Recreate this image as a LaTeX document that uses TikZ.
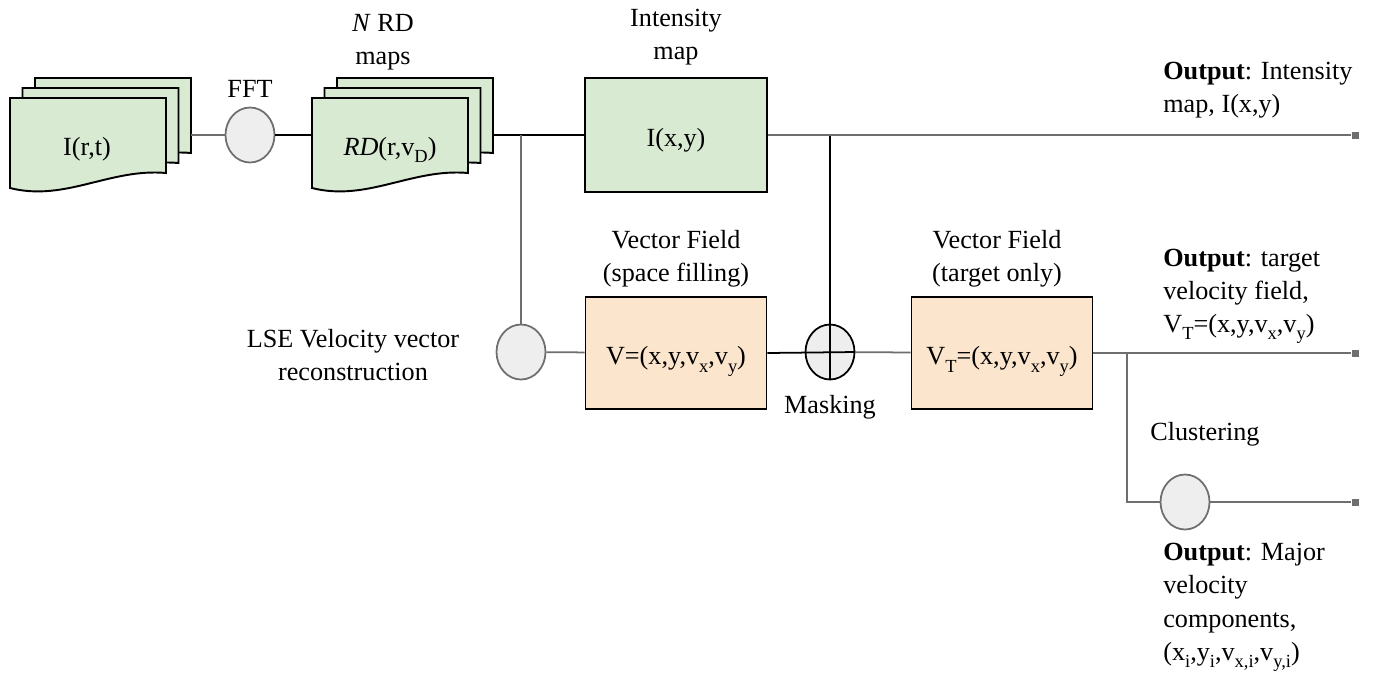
\documentclass[tikz,border=0pt]{standalone}
\usepackage{fontspec}
\setmainfont{Liberation Serif}
\usepackage{tikz}
\usetikzlibrary{shapes.geometric}
\definecolor{mapgreen}{HTML}{D9EAD3}
\definecolor{vecorange}{HTML}{FCE5CD}
\definecolor{opgray}{HTML}{EEEEEE}
\definecolor{wiregray}{HTML}{6E6E6E}
\newcommand{\lowsub}[1]{\raisebox{-4.2pt}{\fontsize{10.5}{10.5}\selectfont #1}}

\begin{document}
\begin{tikzpicture}[font=\fontsize{14.9}{18.8}\selectfont,
  sheet/.style={draw,line width=1.1pt,fill=mapgreen},
  mapbox/.style={draw,line width=1.1pt,fill=mapgreen,minimum width=3.64cm,minimum height=2.28cm,text height=13.5pt,text depth=0pt},
  vecbox/.style={draw,line width=1.1pt,fill=vecorange,minimum width=3.62cm,minimum height=2.24cm,text height=13.5pt,text depth=0pt},
  opnode/.style={ellipse,draw=wiregray,line width=1pt,fill=opgray,minimum width=0.98cm,minimum height=1.1cm,inner sep=0pt},
  wire/.style={wiregray,line width=1pt},
  bwire/.style={black,line width=1pt},
  endpt/.style={fill=wiregray,inner sep=0pt,minimum size=0.14cm},
  lbl/.style={align=center,inner sep=0pt},
  outlbl/.style={align=left,anchor=west,inner sep=0pt}]
\useasboundingbox (0,0) rectangle (27.52,-13.5);
\foreach \x in {0.2,6.24}
  \foreach \k in {2,1,0}
    \draw[sheet,shift={(\x+0.25*\k,-1.96+0.2*\k)}] (0,0)--(3.12,0)--(3.12,-1.5)
      .. controls (2.0,-1.4) and (1.1,-2.08) .. (0,-1.8)--cycle;
\node[text depth=0pt] (rt) at (1.74,-2.92) {I(r,t)};
\node[text depth=0pt] (rd) at (7.8,-2.92) {\textit{RD}(r,v\lowsub{D})};
\coordinate (s1e) at (3.82,-2.7);
\coordinate (s2w) at (6.24,-2.7);
\coordinate (s2e) at (9.86,-2.7);
\node[opnode] (fft) at (5.0,-2.7) {};
\node[lbl] (fftlbl) at (5.0,-1.77) {FFT};
\node[lbl] (rdlbl) at (7.66,-0.85) {\textit{N} RD\\maps};
\node[mapbox] (imap) at (13.52,-2.7) {I(x,y)};
\node[lbl] (imaplbl) at (13.52,-0.75) {Intensity\\map};
\node[opnode] (lse) at (10.42,-7.04) {};
\node[lbl] (lselbl) at (7.06,-7.11) {LSE Velocity vector\\reconstruction};
\node[vecbox] (vfield) at (13.52,-7.06) {V=(x,y,v\lowsub{x},v\lowsub{y})};
\node[lbl] (vfieldlbl) at (13.52,-5.17) {Vector Field\\(space filling)};
\node[opnode,draw=black] (mask) at (16.6,-7.04) {};
\node[lbl] (masklbl) at (16.6,-8.14) {Masking};
\node[vecbox] (vtarget) at (20.04,-7.06) {V\lowsub{T}=(x,y,v\lowsub{x},v\lowsub{y})};
\node[lbl] (vtargetlbl) at (19.94,-5.17) {Vector Field\\(target only)};
\node[opnode] (clus) at (23.7,-10.04) {};
\node[outlbl] (cluslbl) at (23.0,-8.68) {Clustering};
\coordinate (tap1) at (10.42,-2.7);
\coordinate (tap2) at (16.6,-2.7);
\coordinate (br) at (22.54,-7.06);
\node[endpt] (out1) at (27.1,-2.7) {};
\node[endpt] (out2) at (27.1,-7.06) {};
\node[endpt] (out3) at (27.1,-10.04) {};
\node[outlbl] (out1lbl) at (23.26,-1.81) {\textbf{Output}: Intensity\\map, I(x,y)};
\node[outlbl] (out2lbl) at (23.26,-5.93) {\textbf{Output}: target\\velocity field,\\V\lowsub{T}=(x,y,v\lowsub{x},v\lowsub{y})};
\node[outlbl] (out3lbl) at (23.26,-12.15) {\textbf{Output}: Major\\velocity\\components,\\(x\lowsub{i},y\lowsub{i},v\lowsub{x,i},v\lowsub{y,i})};
\draw[wire] (s1e)--(fft);
\draw[bwire] (fft)--(s2w);
\draw[bwire] (s2e)--(imap);
\draw[wire] (tap1)--(lse);
\draw[wire] (lse)--(vfield);
\draw[bwire] (vfield.east)--(mask.east);
\draw[bwire] (tap2)--(mask.south);
\draw[wire] (mask)--(vtarget);
\draw[wire] (imap)--(out1);
\draw[wire] (vtarget)--(out2);
\draw[wire] (br)|-(clus);
\draw[wire] (clus)--(out3);
\end{tikzpicture}
\end{document}
